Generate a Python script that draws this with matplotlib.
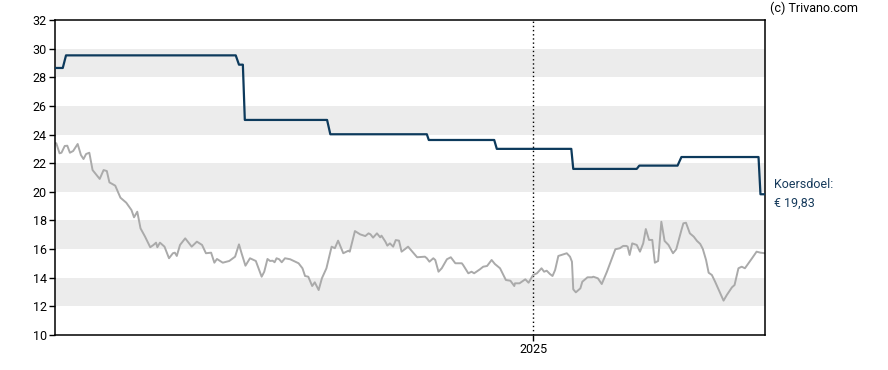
import pandas as pd
import matplotlib
matplotlib.use("Agg")
import matplotlib.pyplot as plt
import matplotlib.dates as mdates

plt.rcParams['font.family'] = ['Roboto', 'DejaVu Sans']

# startdatum van de grafiek, x-waarden zijn dagen sinds start
start = pd.Timestamp('2022-12-25')

# koers (grijze lijn)
koers_dagen = [0, 2, 7, 10, 15, 19, 23, 28, 35, 40, 44, 48, 53, 58, 69, 75, 80, 84, 93, 101,
               110, 118, 122, 127, 132, 139, 147, 152, 156, 158, 162, 169, 176, 182, 185, 188,
               193, 201, 211, 219, 227, 233, 241, 246, 250, 259, 269, 278, 284, 288, 294, 301,
               310, 319, 323, 328, 332, 336, 339, 342, 346, 350, 355, 363, 371, 376, 382, 386,
               391, 397, 401, 407, 412, 419, 427, 432, 437, 445, 453, 455, 463, 471, 479, 484,
               487, 491, 497, 502, 504, 510, 513, 517, 522, 526, 531, 535, 540, 545, 559, 571,
               574, 578, 584, 587, 592, 597, 605, 611, 618, 628, 630, 638, 643, 647, 656, 661,
               667, 672, 674, 679, 687, 696, 703, 709, 710, 717, 726, 731, 738, 744, 751, 755,
               759, 764, 768, 772, 777, 785, 790, 795, 798, 800, 804, 811, 814, 822, 829, 831,
               838, 844, 852, 865, 872, 877, 882, 884, 887, 891, 898, 903, 908, 912, 917, 922,
               926, 931, 936, 941, 947, 954, 959, 967, 970, 974, 980, 986, 991, 996, 1000, 1005,
               1009, 1014, 1019, 1032, 1037, 1045, 1049, 1055, 1060, 1065, 1076, 1083, 1089, 1096]
koers = [23.39, 23.39, 22.69, 22.73, 23.20, 23.22, 22.73, 22.85, 23.34, 22.57, 22.29, 22.64,
         22.73, 21.52, 20.90, 21.52, 21.45, 20.66, 20.43, 19.59, 19.24, 18.73, 18.22, 18.61,
         17.45, 16.87, 16.13, 16.29, 16.45, 16.13, 16.45, 16.17, 15.36, 15.71, 15.75, 15.52,
         16.29, 16.75, 16.17, 16.52, 16.29, 15.71, 15.75, 15.05, 15.31, 15.05, 15.17, 15.47,
         16.33, 15.71, 14.84, 15.36, 15.17, 14.07, 14.42, 15.31, 15.17, 15.19, 15.08, 15.36,
         15.29, 15.08, 15.36, 15.29, 15.12, 15.01, 14.66, 14.12, 14.07, 13.42, 13.68, 13.14,
         13.96, 14.66, 16.17, 16.06, 16.59, 15.71, 15.89, 15.82, 17.26, 17.03, 16.91, 17.10,
         17.03, 16.80, 17.10, 16.82, 16.94, 16.52, 16.24, 16.40, 16.17, 16.63, 16.59, 15.82,
         15.99, 16.17, 15.43, 15.47, 15.36, 15.12, 15.36, 15.24, 14.42, 14.66, 15.29, 15.43,
         15.01, 15.01, 14.89, 14.31, 14.42, 14.31, 14.59, 14.77, 14.82, 15.12, 15.24, 14.96,
         14.66, 13.84, 13.79, 13.42, 13.61, 13.61, 13.89, 13.65, 14.19, 14.31, 14.66, 14.42,
         14.49, 14.26, 14.12, 14.54, 15.52, 15.64, 15.71, 15.47, 15.12, 13.19, 12.98, 13.26,
         13.72, 14.03, 14.03, 14.07, 13.96, 13.56, 14.42, 15.99, 16.06, 16.22, 16.22, 16.17,
         15.59, 16.40, 16.29, 15.82, 16.40, 17.40, 16.64, 16.64, 15.05, 15.17, 17.91, 16.57,
         16.29, 15.71, 15.99, 17.33, 17.80, 17.84, 17.10, 16.87, 16.57, 16.36, 16.01, 15.24,
         14.35, 14.19, 13.72, 12.40, 12.79, 13.33, 13.49, 14.66, 14.77, 14.66, 15.36, 15.82,
         15.75, 15.71]

# koersdoel (blauwe lijn)
doel_dagen = [0, 12, 17, 279, 284, 290, 293, 420, 425, 574, 577, 678, 682, 797, 800,
              898, 902, 961, 967, 1086, 1089, 1096]
doel = [28.65, 28.65, 29.53, 29.53, 28.88, 28.88, 25.02, 25.02, 24.02, 24.02, 23.62, 23.62,
        23.0, 23.0, 21.6, 21.6, 21.83, 21.83, 22.43, 22.43, 19.83, 19.83]

koersdoel_label = 'Koersdoel:\n€ 19,83'
jaar_lijn = pd.Timestamp('2025-01-01')

koers_x = start + pd.to_timedelta(koers_dagen, unit='D')
doel_x = start + pd.to_timedelta(doel_dagen, unit='D')

fig = plt.figure(figsize=(8.88, 3.70), dpi=100)
ax = fig.add_axes([55 / 888, 35 / 370, 710 / 888, 315 / 370])

# grijze banden
for lo in [12, 16, 20, 24, 28]:
    ax.axhspan(lo, lo + 2, color='#ececec', lw=0, zorder=0)

ax.axvline(jaar_lijn, color='black', ls=(0, (1, 2)), lw=1, zorder=1)

ax.plot(koers_x, koers, color='#aaaaaa', lw=1.4, zorder=2)
ax.plot(doel_x, doel, color='#0d3a5c', lw=1.6, zorder=3)

ax.set_xlim(start, start + pd.Timedelta(days=1096))
ax.set_ylim(10, 32)
ax.set_yticks(range(10, 33, 2))
ax.set_xticks([jaar_lijn])
ax.xaxis.set_major_formatter(mdates.DateFormatter('%Y'))
ax.tick_params(axis='both', length=4, width=1, labelsize=9, colors='black', pad=2)

for s in ax.spines.values():
    s.set_linewidth(1.1)
    s.set_color('black')

fig.text(858 / 888, 1 - 8 / 370, '(c) Trivano.com', ha='right', va='center', fontsize=9)
fig.text(774 / 888, 1 - 194 / 370, koersdoel_label, ha='left', va='center',
         fontsize=9, color='#173b5c', linespacing=1.6)

fig.savefig('out.png', dpi=100)
